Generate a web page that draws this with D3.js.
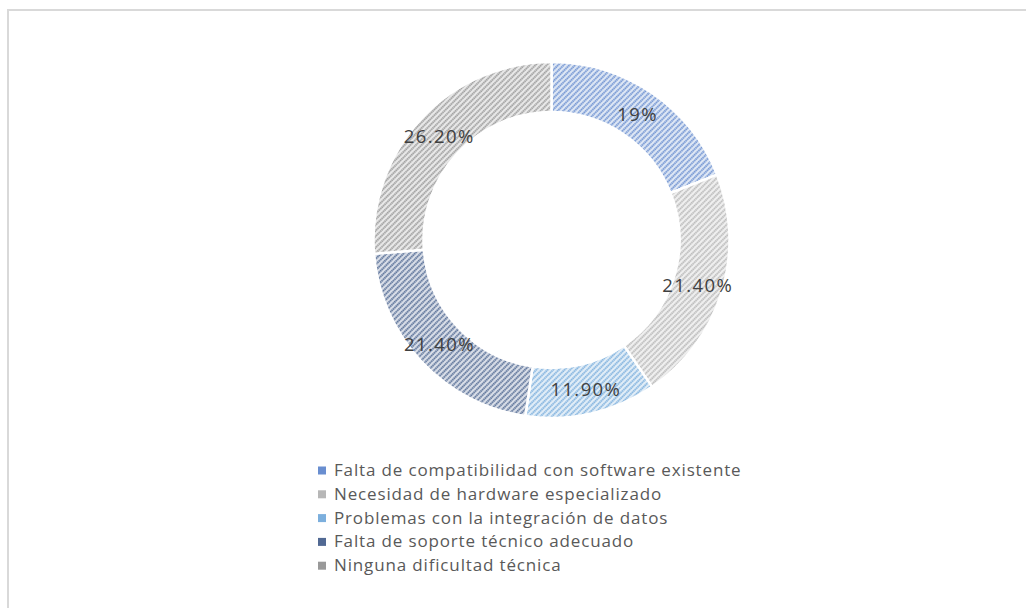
<!DOCTYPE html>
<html>
<head>
<meta charset="utf-8">
<script src="https://cdn.jsdelivr.net/npm/d3@7"></script>
<style>
  body { margin: 0; background: #fff; }
  text { font-family: "Open Sans", "DejaVu Sans", sans-serif; }
</style>
</head>
<body>
<script>
// Data
var categories = [
	"Falta de compatibilidad con software existente",
	"Necesidad de hardware especializado",
	"Problemas con la integración de datos",
	"Falta de soporte técnico adecuado",
	"Ninguna dificultad técnica"
];
var values = [19, 21.4, 11.9, 21.4, 26.2];
var labels = ["19%", "21.40%", "11.90%", "21.40%", "26.20%"];

	/*
	 * Bounds of component.
	 */
	var width = 1026,
		height = 608,
		cx = 551.5,
		cy = 240,
		outerR = 178,
		innerR = 128;

	var svg = d3.select("body").append("svg")
		.attr("width", width)
		.attr("height", height);

	// chart frame
	svg.append("rect")
		.attr("x", 8).attr("y", 10)
		.attr("width", width + 10).attr("height", height + 10)
		.attr("fill", "#fff")
		.attr("stroke", "#d9d9d9")
		.attr("stroke-width", 2);

	/*
	 * Colors and hatched patterns.
	 */
	var color = d3.scaleOrdinal()
		.domain(categories)
		.range(["#4472c4", "#a5a5a5", "#5b9bd5", "#264478", "#7f7f7f"]);

	var defs = svg.append("defs");
	categories.forEach(function(c, i) {
		var base = d3.color(color(c));
		var mix = d3.interpolateRgb(base, "#fff");
		var p = defs.append("pattern")
			.attr("id", "pat" + i)
			.attr("patternUnits", "userSpaceOnUse")
			.attr("width", 4).attr("height", 4)
			.attr("patternTransform", "rotate(45)");
		p.append("rect").attr("width", 4).attr("height", 4).attr("fill", mix(0.82));
		p.append("line")
			.attr("x1", 1).attr("y1", 0).attr("x2", 1).attr("y2", 4)
			.attr("stroke", mix(0.5))
			.attr("stroke-width", 1.6);
		p.append("line")
			.attr("x1", 1).attr("y1", 0).attr("x2", 1).attr("y2", 4)
			.attr("stroke", base.formatHex())
			.attr("stroke-width", 1)
			.attr("stroke-dasharray", "1,1");
	});

	/*
	 * Pie and arcs.
	 */
	var pie = d3.pie()
		.sort(null)
		.value(function(d) { return d.value; });

	var arc = d3.arc()
		.outerRadius(outerR)
		.innerRadius(innerR);

	var data = categories.map(function(c, i) {
		return { name: c, value: values[i], label: labels[i], idx: i };
	});

	var g = svg.append("g")
		.attr("transform", "translate(" + cx + "," + cy + ")");

	var slices = g.selectAll(".arc")
		.data(pie(data))
		.enter().append("g")
		.attr("class", "arc");

	slices.append("path")
		.attr("d", arc)
		.attr("fill", function(d) { return "url(#pat" + d.data.idx + ")"; })
		.attr("stroke", "#fff")
		.attr("stroke-width", 2.5);

	slices.append("text")
		.attr("transform", function(d) { return "translate(" + arc.centroid(d) + ")"; })
		.attr("dy", 7)
		.attr("text-anchor", "middle")
		.attr("fill", "#404040")
		.style("font-size", "18.5px")
		.style("letter-spacing", "1.4px")
		.text(function(d) { return d.data.label; });

	/*
	 * Legend.
	 */
	var legend = svg.append("g")
		.attr("transform", "translate(318,470)");

	var item = legend.selectAll(".item")
		.data(data)
		.enter().append("g")
		.attr("class", "item")
		.attr("transform", function(d, i) { return "translate(0," + i * 23.8 + ")"; });

	item.append("rect")
		.attr("x", 0).attr("y", -3.5)
		.attr("width", 8).attr("height", 8)
		.attr("fill", function(d) { return d3.interpolateRgb(color(d.name), "#fff")(0.2); });

	item.append("text")
		.attr("x", 16)
		.attr("dy", 6)
		.attr("fill", "#595959")
		.style("font-size", "17px")
		.style("letter-spacing", "0.85px")
		.text(function(d) { return d.name; });
</script>
</body>
</html>
